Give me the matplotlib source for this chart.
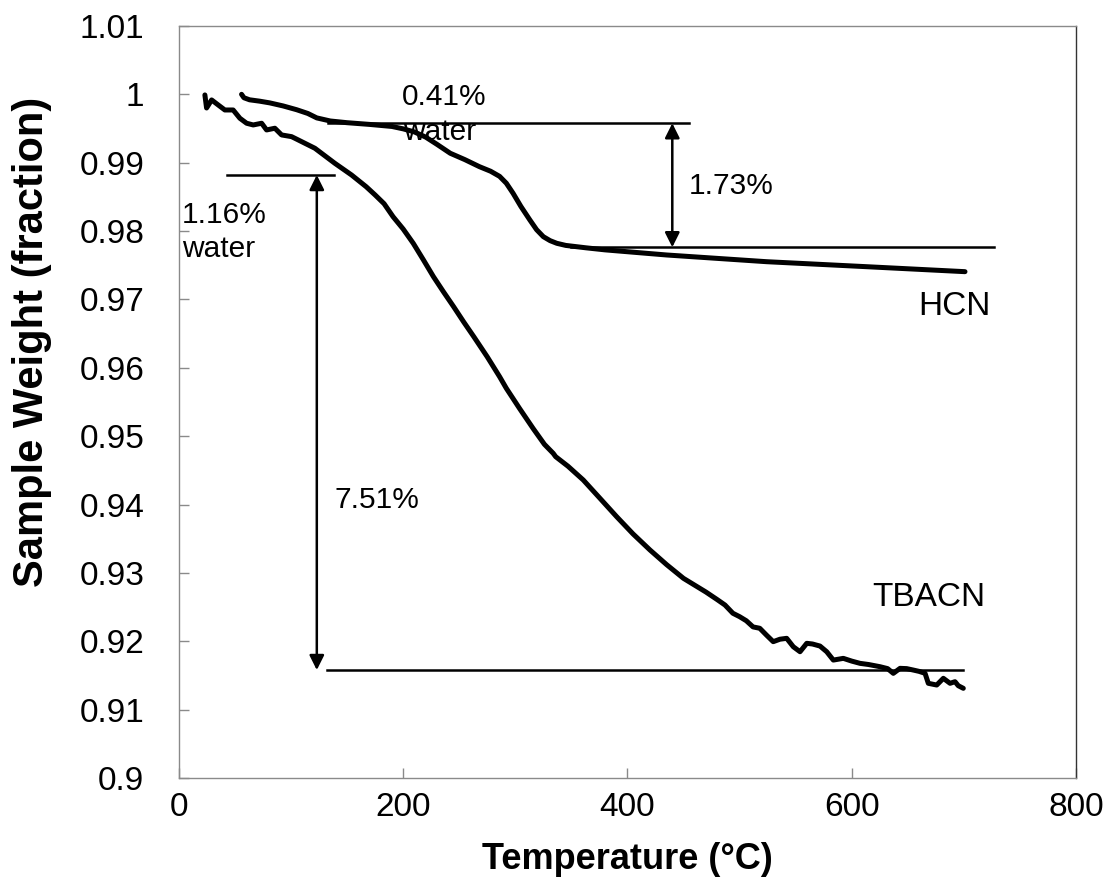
import matplotlib
matplotlib.use("Agg")
import matplotlib.pyplot as plt

plt.rcParams['font.family'] = ['Liberation Sans', 'DejaVu Sans']

# HCN thermogram (temperature in degC, weight fraction)
hcn_temp = [55.9, 58.0, 63.0, 72.0, 81.0, 93.0, 105.0, 115.0, 123.0, 135.0,
            150.0, 170.0, 190.0, 200.0, 210.0, 220.0, 230.0, 242.0, 255.0,
            268.0, 278.0, 286.0, 292.0, 298.0, 305.0, 313.0, 319.0, 325.0,
            331.0, 337.0, 345.0, 363.0, 380.0, 435.0, 524.0, 613.0, 701.0]
hcn_weight = [1.0000, 0.99950, 0.99920, 0.99900, 0.99875, 0.99830, 0.99775,
              0.99720, 0.99655, 0.99610, 0.99585, 0.99560, 0.99530, 0.99495,
              0.99450, 0.99375, 0.99270, 0.99138, 0.99045, 0.98942, 0.98875,
              0.98800, 0.98700, 0.98553, 0.98360, 0.98162, 0.98020, 0.97918,
              0.97860, 0.97821, 0.97790, 0.97755, 0.97725, 0.97650, 0.97552,
              0.97479, 0.97406]

# TBACN thermogram
tbacn_temp = [23.2, 24.7, 29.2, 35.1, 41.0, 48.4, 54.4, 60.4, 66.3, 73.8, 78.2,
              85.6, 91.6, 100.5, 106.4, 121.3, 139.1, 154.0, 167.0, 175.0,
              183.0, 191.0, 200.0, 209.0, 218.0, 227.0, 236.0, 245.0, 254.0,
              263.0, 275.0, 286.0, 292.0, 304.0, 316.0, 326.0, 333.8, 336.0,
              347.0, 360.6, 375.0, 390.4, 405.0, 420.1, 435.0, 450.0, 460.0,
              470.0, 480.0, 487.0, 494.0, 500.0, 506.0, 512.0, 518.0, 524.0,
              530.0, 536.0, 542.0, 547.9, 553.9, 559.9, 565.0, 571.7, 577.7,
              583.6, 592.5, 600.0, 607.4, 615.0, 625.2, 632.0, 637.1, 643.1,
              649.0, 654.9, 660.0, 665.4, 668.3, 675.8, 681.7, 687.7, 692.1,
              695.0, 699.5]
tbacn_weight = [0.99991, 0.99800, 0.99918, 0.99844, 0.99771, 0.99771, 0.99650,
                0.99577, 0.99552, 0.99577, 0.99479, 0.99504, 0.99406, 0.99381,
                0.99333, 0.99211, 0.98991, 0.98820, 0.98649, 0.98528, 0.98400,
                0.98210, 0.98030, 0.97821, 0.97580, 0.97333, 0.97110, 0.96894,
                0.96670, 0.96455, 0.96160, 0.95870, 0.95700, 0.95400, 0.95110,
                0.94880, 0.94749, 0.94700, 0.94560, 0.94359, 0.94100, 0.93822,
                0.93570, 0.93335, 0.93120, 0.92920, 0.92820, 0.92720, 0.92610,
                0.92530, 0.92410, 0.92360, 0.92300, 0.92210, 0.92190, 0.92090,
                0.91994, 0.92030, 0.92043, 0.91920, 0.91847, 0.91970, 0.91960,
                0.91930, 0.91847, 0.91725, 0.91750, 0.91710, 0.91677, 0.91660,
                0.91628, 0.91600, 0.91531, 0.91604, 0.91600, 0.91579, 0.91560,
                0.91531, 0.91385, 0.91360, 0.91458, 0.91385, 0.91409, 0.91350,
                0.91312]

# Baselines bracketing each weight-loss step
hcn_upper, hcn_lower = 0.99577, 0.97763
tbacn_upper, tbacn_lower = 0.98820, 0.91579

y_ticks = [0.9, 0.91, 0.92, 0.93, 0.94, 0.95, 0.96, 0.97, 0.98, 0.99, 1.0, 1.01]
y_tick_labels = ['0.9', '0.91', '0.92', '0.93', '0.94', '0.95', '0.96', '0.97',
                 '0.98', '0.99', '1', '1.01']
x_ticks = [0, 200, 400, 600, 800]
x_tick_labels = ['0', '200', '400', '600', '800']

fig = plt.figure(figsize=(11.11, 8.92), dpi=100)
ax = fig.add_axes([0.161, 0.1278, 0.8075, 0.8431])

ax.plot(hcn_temp, hcn_weight, color='black', lw=3.6,
        solid_capstyle='round', solid_joinstyle='round')
ax.plot(tbacn_temp, tbacn_weight, color='black', lw=3.6,
        solid_capstyle='round', solid_joinstyle='round')

ax.set_xlim(0, 800)
ax.set_ylim(0.9, 1.01)
ax.set_xticks(x_ticks)
ax.set_xticklabels(x_tick_labels)
ax.set_yticks(y_ticks)
ax.set_yticklabels(y_tick_labels)

spine_color = '#8a8a8a'
for s in ax.spines.values():
    s.set_color(spine_color)
    s.set_linewidth(1.0)
ax.spines['right'].set_color('#333333')
ax.tick_params(axis='both', direction='in', length=7, width=1.0,
               color=spine_color, labelsize=24)
ax.tick_params(axis='y', pad=25)
ax.tick_params(axis='x', pad=10)

ax.set_xlabel('Temperature (°C)', fontsize=26, fontweight='bold', labelpad=14)
ax.set_ylabel('Sample Weight (fraction)', fontsize=30, fontweight='bold')
ax.yaxis.set_label_coords(-0.141, 0.58)

# HCN step annotation
ax.plot([133, 455], [hcn_upper, hcn_upper], color='black', lw=1.8)
ax.plot([350, 727], [hcn_lower, hcn_lower], color='black', lw=1.8)
ax.annotate('', xy=(440, hcn_lower), xytext=(440, hcn_upper),
            arrowprops=dict(arrowstyle='<|-|>', color='black', lw=1.8,
                            mutation_scale=22, shrinkA=0, shrinkB=0))

# TBACN step annotation
ax.plot([42.5, 138.5], [tbacn_upper, tbacn_upper], color='black', lw=1.8)
ax.plot([132, 699.5], [tbacn_lower, tbacn_lower], color='black', lw=1.8)
ax.annotate('', xy=(123, tbacn_lower), xytext=(123, tbacn_upper),
            arrowprops=dict(arrowstyle='<|-|>', color='black', lw=1.8,
                            mutation_scale=22, shrinkA=0, shrinkB=0))

txt = dict(fontsize=21.5, color='black', ha='left', va='baseline')
ax.text(199.2, 0.99844, '0.41%', **txt)
ax.text(199.8, 0.99332, 'water', **txt)
ax.text(2.4, 0.98114, '1.16%', **txt)
ax.text(2.4, 0.97625, 'water', **txt)
ax.text(454.9, 0.98538, '1.73%', **txt)
ax.text(139.1, 0.93949, '7.51%', **txt)
ax.text(659.1, 0.96772, 'HCN', fontsize=24, ha='left', va='baseline')
ax.text(618.7, 0.92516, 'TBACN', fontsize=24, ha='left', va='baseline')

fig.savefig('out.png', dpi=100)
